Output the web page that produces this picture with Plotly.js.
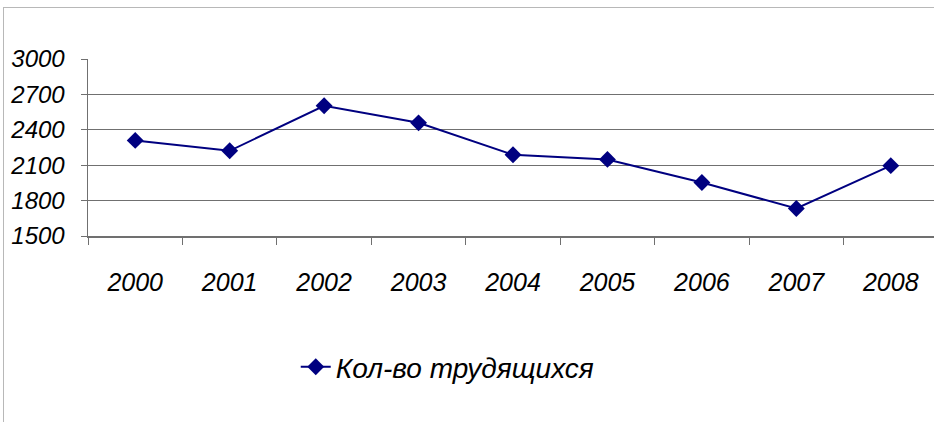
<!DOCTYPE html>
<html>
<head>
<meta charset="utf-8">
<script src="https://cdn.plot.ly/plotly-3.0.1.min.js"></script>
<style>
  html, body { margin: 0; padding: 0; background: #fff; overflow: hidden; width: 934px; height: 422px; }
  #frame { position: absolute; left: 3px; top: 7px; width: 940px; height: 420px; border-left: 1px solid #b8b8b8; border-top: 1px solid #b8b8b8; box-sizing: border-box; pointer-events: none; }
  #chart { position: absolute; left: 0; top: 0; width: 940px; height: 422px; }
</style>
</head>
<body>
<div id="chart"></div>
<div id="frame"></div>
<script>
const years = ["2000", "2001", "2002", "2003", "2004", "2005", "2006", "2007", "2008"];
const workers = [2310, 2222, 2604, 2459, 2188, 2149, 1953, 1733, 2096];
const yTicks = [1500, 1800, 2100, 2400, 2700, 3000];
const seriesName = "Кол-во трудящихся";

const fam = "Liberation Sans, Arial, sans-serif";

const trace = {
  x: years,
  y: workers,
  type: "scatter",
  mode: "lines+markers",
  name: seriesName,
  line: { color: "#000080", width: 2 },
  marker: { symbol: "diamond", size: 13, color: "#000080" }
};

const layout = {
  width: 940,
  height: 422,
  margin: { l: 88, r: 2, t: 59, b: 186 },
  paper_bgcolor: "rgba(0,0,0,0)",
  plot_bgcolor: "rgba(0,0,0,0)",
  font: { family: fam, size: 24, color: "#000" },
  showlegend: true,
  legend: {
    x: 0.2444, xanchor: "left",
    y: -0.74, yanchor: "middle",
    orientation: "h",
    font: { family: fam, size: 28, color: "#000", style: "italic" },
    bgcolor: "rgba(0,0,0,0)"
  },
  xaxis: {
    type: "category",
    range: [-0.5, 8.5],
    showgrid: false,
    showline: true,
    linecolor: "#707070",
    linewidth: 1.5,
    ticks: "outside",
    tickson: "boundaries",
    ticklen: 7,
    tickcolor: "#707070",
    tickwidth: 1,
    ticklabelstandoff: 23,
    tickfont: { family: fam, size: 25, color: "#000", style: "italic" },
    zeroline: false,
    fixedrange: true
  },
  yaxis: {
    range: [1500, 3000],
    tickvals: yTicks,
    ticktext: yTicks.map(String),
    showgrid: true,
    gridcolor: "#707070",
    gridwidth: 1,
    showline: true,
    linecolor: "#707070",
    linewidth: 1.5,
    ticks: "outside",
    ticklen: 6,
    tickcolor: "#707070",
    ticklabelstandoff: 11,
    tickfont: { family: fam, size: 24, color: "#000", style: "italic" },
    zeroline: false,
    fixedrange: true
  }
};

Plotly.newPlot("chart", [trace], layout, { displayModeBar: false, staticPlot: true });
</script>
</body>
</html>
